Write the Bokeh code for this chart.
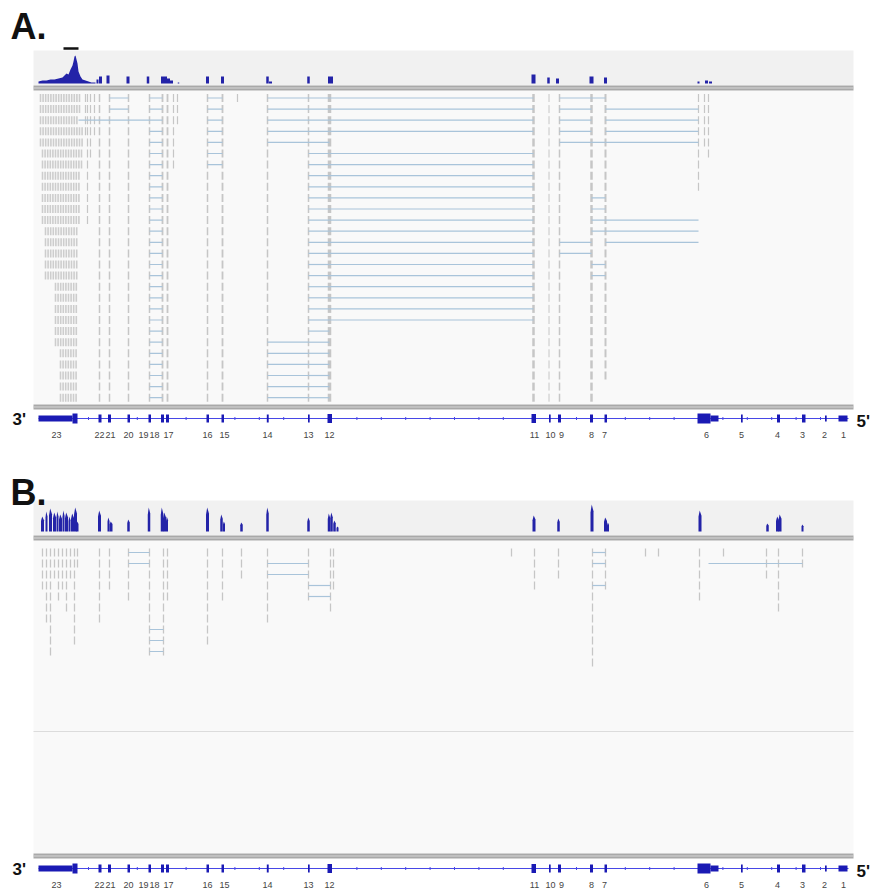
import numpy as np
from bokeh.plotting import figure
from bokeh.models import Range1d, ColumnDataSource
from bokeh.embed import file_html
from bokeh.resources import INLINE
from bokeh.core.properties import value

# ---------------- data ----------------
# exon numbers and label positions (genomic axis, 3' left -> 5' right)
exon_labels = ["23", "22", "21", "20", "19", "18", "17", "16", "15", "14", "13", "12",
               "11", "10", "9", "8", "7", "6", "5", "4", "3", "2", "1"]
label_x = [56, 99, 110, 128, 143, 154, 168, 207, 224, 267, 308, 329,
           534, 550, 561, 591, 604, 706, 741, 777, 802, 824, 843]

# gene model blocks: left, right, half height
exon_left = [38, 72, 98, 107.5, 127, 148, 160.5, 165.5, 206, 221, 266.3, 307.5, 327,
             531, 548.5, 557.5, 589.5, 604, 697, 710, 740.5, 776.5, 801.5, 824.5, 838]
exon_right = [72, 77, 101, 110.5, 129.5, 150.5, 163.5, 168.5, 208.5, 223.5, 268.2, 309.2, 331.5,
              535.5, 550.2, 560.5, 592.5, 606.5, 710, 718, 742.2, 779.5, 805, 826.2, 847]
exon_half = [3, 5, 4, 4, 4, 4, 4, 4, 4, 4, 4, 4, 4.5,
             4.5, 4, 4, 4, 4, 5, 3, 4, 4, 4, 3, 3]
gene_start, gene_end = 38, 848

# panel A coverage: exon 23 profile
cov23_x = [38, 42, 46, 50, 54, 58, 62, 64, 66, 68, 70, 72, 73, 74, 75, 76, 77, 78, 80, 82, 85, 88, 91, 95]
cov23_h = [2, 3, 3, 4, 4, 5, 6, 8, 10, 9, 14, 18, 22, 27, 28, 24, 20, 12, 7, 4, 3, 2, 1, 1]
# panel A coverage: other exons
covA_x = [97, 100, 107.5, 127.5, 147.5, 162, 165, 168, 171, 178, 207, 222, 267, 270,
          308, 330, 533, 548, 557, 591, 605, 698, 706, 710]
covA_w = [2, 3, 3, 3, 2.5, 3, 3, 3, 3, 1.5, 3, 3, 2.5, 3, 2.5, 5, 4, 2.5, 3, 4, 3, 2, 3, 3]
covA_h = [4, 7, 8, 7, 7, 7, 7, 5, 3, 1, 7, 7, 7, 2, 7, 7, 9, 6, 5, 7, 6, 2, 3, 2]

# panel B coverage spikes
covB_x = [42, 46, 50, 54, 57, 60, 63, 66, 69, 72, 75, 77,
          99, 108, 110.5, 128, 148.5, 161.5, 164, 166.5, 207, 221, 223.5, 241, 267,
          308, 328.5, 331, 334, 337, 533.5, 558, 591.5, 605, 607.5, 699.5, 767, 777, 779.5, 802]
covB_h = [15, 20, 23, 19, 20, 17, 21, 19, 15, 18, 24, 10,
          21, 14, 10, 12, 24, 24, 19, 15, 24, 17, 10, 9, 24,
          14, 18, 19, 11, 5, 16, 13, 27, 14, 9, 21, 8, 15, 17, 7]
covB_w = [3, 2, 3, 3, 2, 3, 2, 3, 2, 3, 3, 2,
          3, 2, 3, 2.5, 2.5, 2.5, 3, 2, 3, 2.5, 2, 2.5, 2.5,
          2.5, 2.5, 2.5, 2.5, 2, 3, 2.5, 3, 3, 2, 3, 2.5, 3, 3, 2]

# panel A reads: 28 rows
nA = 28
blockA_start = [40, 40, 40, 40, 40, 42, 42, 42, 42, 42, 42, 42, 45, 45, 45, 45, 45,
                55, 55, 55, 55, 55, 55, 60, 60, 60, 60, 60]
blockA_end = [80, 80, 77, 82, 82, 82, 82, 80, 80, 80, 80, 80, 77, 77, 77, 77, 77,
              77, 77, 77, 77, 77, 77, 77, 77, 77, 77, 77]
# read marks at exons: x, first row, last row, width
markA_x = [85, 90, 94, 87, 99, 109, 128, 149, 162, 167, 173, 177, 207, 222, 237, 267, 308, 329,
           533, 548.5, 559, 591, 605, 698, 704, 708]
markA_r0 = [0] * len(markA_x)
markA_r1 = [3, 5, 3, 11, 27, 27, 27, 27, 27, 27, 6, 2, 27, 27, 0, 27, 27, 27,
            27, 27, 27, 27, 25, 8, 4, 5]
markA_w = [1.2, 1.2, 1.2, 1.2, 1.5, 1.5, 1.5, 1.5, 1.8, 1.8, 1.2, 1.2, 1.5, 1.8, 1.2, 1.5, 1.5, 3.5,
           2.5, 1.0, 1.5, 2.5, 2, 1.2, 1.2, 1.2]
# junctions: from, to, rows
juncA_from = [109, 78, 149, 207, 267, 267, 308, 308, 267, 329, 329, 559, 559, 591, 591, 605, 605]
juncA_to = [128, 162, 162, 222, 308, 308, 329, 329, 329, 533, 533, 591, 591, 605, 605, 698, 698]
juncA_rows = [[0, 1], [2], [0, 1] + list(range(3, 28)), list(range(0, 7)), [0], list(range(22, 28)),
              [0], list(range(5, 28)), [1, 2, 3, 4], [0, 1, 2, 3], list(range(5, 21)),
              [0, 1, 2, 3, 4], [13, 14], [0, 4, 9, 10], [11, 12, 15, 16], [1, 2, 3, 4], [11, 12, 13]]

# panel B reads: 10 rows
nB = 10
markB_x = [42, 46, 50, 54, 58, 62, 66, 70, 74, 77, 99, 109, 128, 149, 163, 167, 207, 222, 241,
           267, 308, 330, 333, 511, 534, 558, 592, 605, 645, 658, 699, 723, 766, 778, 802]
markB_r1 = [3, 6, 9, 2, 4, 3, 5, 2, 8, 1, 6, 3, 4, 9, 9, 4, 8, 4, 2,
            6, 4, 5, 3, 0, 3, 2, 10, 3, 0, 0, 4, 0, 2, 5, 1]
juncB_from = [128, 267, 308, 149, 592, 708]
juncB_to = [149, 308, 330, 163, 605, 802]
juncB_rows = [[0, 1], [1, 2], [3, 4], [7, 8, 9], [0, 1, 3], [1]]

# ---------------- layout (reference pixel frame) ----------------
TRACK_L, TRACK_R = 33, 853
panels = {
    "A": dict(label_y=26, cov_top=50, cov_base=83, sep1=85, reads_bot=404, gene_y=418, lab_y=434,
              row0=97.5, dy=11.1),
    "B": dict(label_y=492, cov_top=500, cov_base=531, sep1=535, reads_bot=853, gene_y=868, lab_y=884,
              row0=552, dy=11.0),
}

p = figure(width=876, height=891, x_range=Range1d(0, 876), y_range=Range1d(891, 0),
           output_backend="svg", toolbar_location=None, min_border=0,
           x_axis_type=None, y_axis_type=None)
p.grid.visible = False
p.outline_line_color = None
p.background_fill_color = "white"
p.border_fill_color = "white"

BLUE = "#1a1ab4"
COV = "#2323a8"
GREY_MARK = "#c6c6c6"
JUNC = "#a9c4da"

for name, P in panels.items():
    # backgrounds
    p.quad(left=[TRACK_L], right=[TRACK_R], top=[P["cov_top"]], bottom=[P["sep1"]],
           fill_color="#f1f1f1", line_color=None)
    p.quad(left=[TRACK_L], right=[TRACK_R], top=[P["sep1"] + 5], bottom=[P["reads_bot"]],
           fill_color="#f9f9f9", line_color=None)
    for s in (P["sep1"], P["reads_bot"]):
        p.quad(left=[TRACK_L], right=[TRACK_R], top=[s], bottom=[s + 5],
               fill_color="#a9a9a9", line_color=None)
        p.segment(x0=[TRACK_L], x1=[TRACK_R], y0=[s + 2.5], y1=[s + 2.5],
                  line_color="#d8d8d8", line_width=1)
    # panel letter
    p.text(x=[10], y=[P["label_y"]], text=[name + "."], text_font=value("Liberation Sans"),
           text_font_style="bold", text_font_size="36px", text_baseline="middle",
           text_color="#111111")
    # gene model
    gy = P["gene_y"]
    p.segment(x0=[gene_start], x1=[gene_end], y0=[gy], y1=[gy], line_color="#4747e6", line_width=1)
    ticks = [t for t in np.arange(88, 840, 24.4)
             if all(abs(t - (l + r) / 2) > (r - l) / 2 + 4 for l, r in zip(exon_left, exon_right))]
    p.segment(x0=ticks, x1=ticks, y0=[gy - 1.5] * len(ticks), y1=[gy + 1.5] * len(ticks),
              line_color="#4747e6", line_width=1)
    p.quad(left=exon_left, right=exon_right,
           top=[gy - h for h in exon_half], bottom=[gy + h for h in exon_half],
           fill_color=BLUE, line_color=None)
    src = ColumnDataSource(dict(x=label_x, y=[P["lab_y"]] * len(label_x), t=exon_labels))
    p.text(x="x", y="y", text="t", source=src, text_font=value("Liberation Sans"),
           text_font_size="9px", text_align="center", text_baseline="middle", text_color="#444444")
    p.text(x=[12], y=[gy + 1], text=["3'"], text_font=value("Liberation Sans"), text_font_style="bold",
           text_font_size="17px", text_baseline="middle", text_color="#111111")
    p.text(x=[856], y=[gy + 3], text=["5'"], text_font=value("Liberation Sans"), text_font_style="bold",
           text_font_size="17px", text_baseline="middle", text_color="#111111")

# ---- panel A coverage ----
PA = panels["A"]
bA = PA["cov_base"]
p.varea(x=cov23_x, y1=[bA] * len(cov23_x), y2=[bA - h for h in cov23_h], fill_color=COV)
p.quad(left=[x - w / 2 for x, w in zip(covA_x, covA_w)], right=[x + w / 2 for x, w in zip(covA_x, covA_w)],
       top=[bA - h for h in covA_h], bottom=[bA] * len(covA_h), fill_color=COV, line_color=None)
p.segment(x0=[63], x1=[78], y0=[48], y1=[48], line_color="#111111", line_width=2.5)

# ---- panel B coverage (spikes) ----
PB = panels["B"]
bB = PB["cov_base"]
xsB, ysB = [], []
for x, h, w in zip(covB_x, covB_h, covB_w):
    xsB.append([x - w / 2, x - w / 2, x - w * 0.1, x + w / 2, x + w / 2])
    ysB.append([bB, bB - h * 0.7, bB - h, bB - h * 0.75, bB])
p.patches(xs=xsB, ys=ysB, fill_color=COV, line_color=None)


def draw_reads(P, n, mx, mr0, mr1, mw, jf, jt, jr):
    y0 = P["row0"]
    dy = P["dy"]
    X0, X1, Y0, Y1, LW = [], [], [], [], []
    for x, r0, r1, w in zip(mx, mr0, mr1, mw):
        for r in range(r0, r1 + 1):
            yc = y0 + r * dy
            X0.append(x); X1.append(x); Y0.append(yc - 4); Y1.append(yc + 4); LW.append(w)
    p.segment(x0=X0, x1=X1, y0=Y0, y1=Y1, line_color=GREY_MARK, line_width=LW)
    J0, J1, JY = [], [], []
    for a, b, rows in zip(jf, jt, jr):
        for r in rows:
            J0.append(a); J1.append(b); JY.append(y0 + r * dy)
    p.segment(x0=J0, x1=J1, y0=JY, y1=JY, line_color=JUNC, line_width=1.2)


# panel A reads
bx0, bx1, by0, by1 = [], [], [], []
for r in range(nA):
    yc = PA["row0"] + r * PA["dy"]
    for x in np.arange(blockA_start[r], blockA_end[r], 2.6):
        bx0.append(x); bx1.append(x); by0.append(yc - 4); by1.append(yc + 4)
p.segment(x0=bx0, x1=bx1, y0=by0, y1=by1, line_color="#cdcdcd", line_width=1.6)
draw_reads(PA, nA, markA_x, markA_r0, markA_r1, markA_w, juncA_from, juncA_to, juncA_rows)

# panel B reads
draw_reads(PB, nB, markB_x, [0] * len(markB_x), markB_r1, [1.3] * len(markB_x),
           juncB_from, juncB_to, juncB_rows)
p.segment(x0=[TRACK_L], x1=[TRACK_R], y0=[731], y1=[731], line_color="#dcdcdc", line_width=1.2)

open("out.html", "w").write(file_html(p, INLINE))
